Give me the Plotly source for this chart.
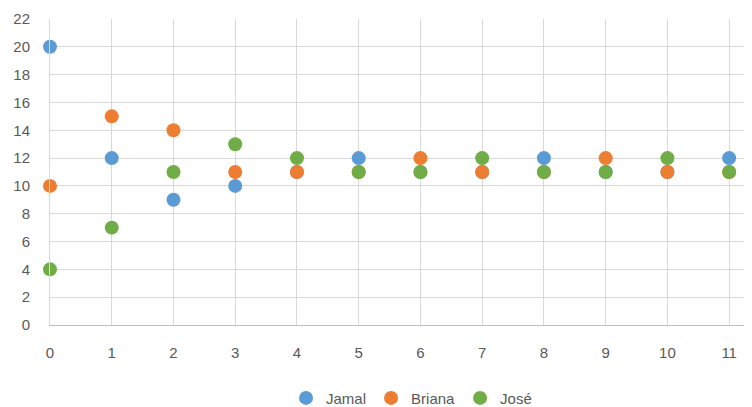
import plotly.graph_objects as go

x_vals = [0, 1, 2, 3, 4, 5, 6, 7, 8, 9, 10, 11]
jamal = [20, 12, 9, 10, 11, 12, 11, 11, 12, 11, 11, 12]
briana = [10, 15, 14, 11, 11, 11, 12, 11, 11, 12, 11, 11]
jose = [4, 7, 11, 13, 12, 11, 11, 12, 11, 11, 12, 11]
y_ticks = list(range(0, 23, 2))

series = [("Jamal", jamal, "#5B9BD5"), ("Briana", briana, "#ED7D31"), ("José", jose, "#70AD47")]

fig = go.Figure()
for name, vals, col in series:
    fig.add_trace(go.Scatter(x=x_vals, y=vals, mode="markers", name=name,
                             marker=dict(size=14, color=col, line=dict(width=0)),
                             cliponaxis=False))

# page body has an 8px margin, so the figure is sized to the remaining viewport
fig.update_layout(
    width=744, height=399,
    margin=dict(l=42, r=0, t=11, b=82, autoexpand=False),
    paper_bgcolor="white", plot_bgcolor="white",
    font=dict(family="Liberation Sans, Arial", size=15, color="#595959"),
    showlegend=True,
    legend=dict(orientation="h", x=0.515, xanchor="center", y=-0.239, yanchor="middle",
                font=dict(size=15, color="#595959"), itemwidth=30, tracegroupgap=0),
    xaxis=dict(range=[0, 11.37], tickmode="array", tickvals=x_vals,
               showgrid=True, gridcolor="#d9d9d9", gridwidth=1,
               showline=True, linecolor="#bfbfbf", linewidth=1,
               zeroline=False, ticks="", ticklabelstandoff=14, automargin=False),
    yaxis=dict(range=[0, 22], tickmode="array", tickvals=y_ticks,
               showgrid=True, gridcolor="#d9d9d9", gridwidth=1,
               showline=True, linecolor="#d9d9d9", linewidth=1,
               zeroline=False, ticks="", ticklabelstandoff=16, automargin=False),
)

fig.write_html("out.html")
